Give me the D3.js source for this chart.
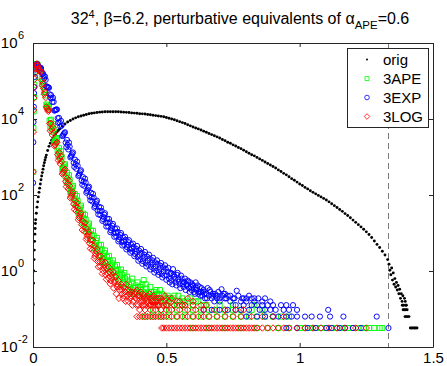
<!DOCTYPE html>
<html>
<head>
<meta charset="utf-8">
<title>perturbative equivalents</title>
<script src="https://d3js.org/d3.v7.min.js"></script>
<style>
  body { margin:0; background:#fff; }
  svg text { font-family: "Liberation Sans", Arial, Helvetica, sans-serif; fill:#000; }
</style>
</head>
<body>
<div id="chart"></div>
<script>
// bin centres: two interleaved grids for the dense part of the smeared histograms, one for the original
var binX = d3.range(98).map(function(i){ return +(0.015 + i * 0.005).toFixed(4); });
var binX2 = d3.range(97).map(function(i){ return +(0.0175 + i * 0.005).toFixed(4); });
var origX = d3.range(1, 134).map(function(i){ return i / 100; });

// log10 of the heights
var origHead = [[0.001,-0.89],[0.002,-0.32],[0.003,0.0],[0.004,0.30],[0.005,0.55],[0.006,0.78],[0.007,0.97],
  [0.008,1.12],[0.009,1.25],[0.0125,1.52],[0.015,1.68],[0.0175,1.82],[0.0225,2.07],[0.025,2.18],[0.0275,2.29],
  [0.0325,2.50],[0.035,2.59],[0.0375,2.68],[0.0425,2.85],[0.045,2.92],[0.0475,2.99],[0.055,3.17],[0.065,3.36],
  [0.075,3.50],[0.085,3.61],[0.095,3.70]];
var origLog = [
  1.35,1.95,2.40,2.77,3.05,3.28,3.44,3.56,3.66,3.74,
  3.81,3.87,3.92,3.96,4.00,4.03,4.06,4.08,4.10,4.12,
  4.14,4.15,4.16,4.17,4.18,4.185,4.19,4.19,4.19,4.19,
  4.19,4.19,4.185,4.18,4.175,4.17,4.16,4.155,4.15,4.14,
  4.135,4.13,4.12,4.11,4.10,4.09,4.08,4.07,4.06,4.04,
  4.02,4.00,3.98,3.955,3.93,3.905,3.88,3.85,3.82,3.79,
  3.765,3.74,3.71,3.68,3.65,3.62,3.59,3.56,3.53,3.50,
  3.46,3.43,3.39,3.36,3.32,3.29,3.25,3.22,3.18,3.14,
  3.10,3.06,3.03,2.99,2.95,2.91,2.87,2.83,2.79,2.75,
  2.71,2.66,2.62,2.57,2.53,2.48,2.43,2.39,2.34,2.29,
  2.25,2.20,2.16,2.11,2.07,2.03,1.99,1.95,1.91,1.87,
  1.82,1.77,1.72,1.67,1.62,1.57,1.51,1.46,1.40,1.34,
  1.28,1.22,1.16,1.10,1.03,0.96,0.88,0.79,0.70,0.62,
  0.52,0.42,0.30];
var origTail = [[1.335,0.18],[1.338,0.02],[1.342,-0.10],[1.345,0.08],[1.348,-0.24],[1.351,-0.05],[1.354,-0.35],
  [1.357,-0.20],[1.36,-0.42],[1.363,-0.30],[1.366,-0.50],[1.369,-0.38],[1.372,-0.60],[1.375,-0.48],[1.378,-0.72],
  [1.381,-0.60],[1.384,-0.80],[1.387,-0.65],[1.39,-0.90],[1.393,-0.72],[1.396,-0.80],[1.385,-0.90],[1.398,-0.90],
  [1.40,-0.90],[1.388,-1.02],[1.393,-1.02],[1.398,-1.02],[1.403,-1.02],[1.395,-1.2],[1.40,-1.2],[1.405,-1.2],
  [1.41,-1.2],[1.415,-1.5],[1.42,-1.5],[1.425,-1.5],[1.43,-1.5],[1.435,-1.5],[1.44,-1.5]];

var apeHead = [[0.0008,2.61],[0.0015,3.76],[0.0025,4.20],[0.0035,4.58],[0.005,4.90],[0.0065,5.10],[0.008,5.25],
  [0.0095,5.35],[0.011,5.41],[0.0125,5.44]];
var apeLog = [
  5.45,5.35,5.30,5.28,4.92,4.85,4.76,4.38,4.31,4.32,
  3.78,3.82,3.87,3.39,3.44,3.50,3.02,3.08,3.15,2.67,
  2.74,2.81,2.35,2.44,2.52,2.07,2.15,2.24,1.79,1.88,
  1.97,1.53,1.62,1.72,1.28,1.38,1.48,1.04,1.15,1.25,
  0.82,0.93,1.06,0.60,0.73,0.87,0.41,0.55,0.69,0.24,
  0.39,0.54,0.09,0.25,0.40,-0.04,0.12,0.28,-0.16,0.00,
  0.16,-0.28,-0.12,0.04];
var apeLog2 = [
  5.42,5.33,5.26,5.05,4.99,4.71,4.62,4.35,4.28,3.96,
  3.98,3.67,3.72,3.42,3.47,3.17,3.23,2.94,3.00,2.71,
  2.78,2.49,2.58,2.30,2.39,2.11,2.20,1.93,2.02,1.75,
  1.84,1.58,1.67,1.41,1.51,1.25,1.35,1.10,1.20,0.95,
  1.06,0.81,0.93,0.67,0.80,0.54,0.68,0.42,0.57,0.32,
  0.47,0.22,0.37,0.13,0.28,0.04,0.20,-0.04,0.12,-0.12,
  0.04,-0.20,-0.04];
var apeScatter = [[0.335,-0.10],[0.34,-0.30],[0.345,-0.20],[0.35,-0.42],[0.355,-0.25],[0.36,-0.35],[0.365,-0.50],
  [0.37,-0.30],[0.375,-0.45],[0.38,-0.60],[0.385,-0.38],[0.39,-0.55],[0.395,-0.42],[0.40,-0.65],[0.405,-0.50],
  [0.41,-0.35],[0.415,-0.24],[0.42,-0.60],[0.425,-0.46],[0.43,-0.72],[0.435,-0.55],[0.44,-0.42],[0.445,-0.65],
  [0.45,-0.80],[0.455,-0.55],[0.46,-0.72],[0.465,-0.60],[0.47,-0.80],[0.476,-0.50],[0.48,-0.72],[0.49,-0.65],
  [0.50,-0.90],[0.51,-0.72],[0.514,-0.72],[0.52,-0.80],[0.53,-0.65],[0.54,-0.90],[0.55,-0.80],[0.56,-0.72],
  [0.57,-0.90],[0.58,-0.80],[0.60,-0.90],[0.62,-0.80],
  [0.3375,-0.35],[0.3425,-0.05],[0.3525,-0.15],[0.3625,-0.55],[0.3725,-0.20],[0.3825,-0.45],[0.3925,-0.30],
  [0.4025,-0.42],[0.4125,-0.55],[0.4225,-0.35],[0.4325,-0.60],[0.4425,-0.55],[0.4525,-0.65],[0.4625,-0.50],
  [0.4725,-0.65],[0.4825,-0.60],[0.495,-0.80],[0.505,-0.65],[0.525,-0.72],[0.545,-0.65],[0.565,-0.80],
  [0.59,-0.72],[0.61,-0.80],[0.64,-0.90]];
var apeRows = [
  {y: 0.0316, x: [0.60,0.66,0.72,0.78,0.84,0.88,0.92,0.96,1.00,1.02,1.04,1.06,1.08,1.10,1.12,1.14,1.16,1.18,1.20,1.22,1.24,1.26,1.28,1.30,1.31]},
  {y: 0.0632, x: [0.42,0.45,0.48,0.51,0.54,0.57,0.60,0.63,0.66,0.69,0.72,0.75,0.78,0.81,0.84,0.87,0.90,0.93,0.96]},
  {y: 0.0949, x: [0.45,0.48,0.51,0.54,0.57,0.60,0.63,0.66,0.69,0.72,0.75,0.78,0.82,0.86]},
  {y: 0.1265, x: [0.50,0.55,0.60,0.65,0.70,0.75,0.83]}];

var expHead = [[0.0005,2.32],[0.0012,3.39],[0.002,3.92],[0.003,4.32],[0.004,4.68],[0.005,4.84],[0.0065,5.11],
  [0.008,5.30],[0.0095,5.37],[0.011,5.42],[0.0125,5.44]];
var expLog = [
  5.45,5.37,5.36,5.34,5.18,5.13,5.12,4.86,4.84,4.82,
  4.56,4.54,4.56,4.22,4.24,4.25,3.90,3.91,3.95,3.55,
  3.60,3.65,3.26,3.32,3.38,2.99,3.05,3.12,2.74,2.81,
  2.88,2.50,2.57,2.65,2.27,2.35,2.43,2.06,2.14,2.22,
  1.86,1.94,2.03,1.67,1.76,1.85,1.49,1.58,1.67,1.32,
  1.42,1.52,1.17,1.27,1.37,1.02,1.13,1.24,0.90,1.01,
  1.12,0.78,0.89,1.00,0.67,0.78,0.90,0.57,0.69,0.81,
  0.48,0.60,0.72,0.39,0.51,0.66,0.27,0.42,0.58,0.19,
  0.35,0.50,0.12,0.27,0.43,0.04,0.20,0.35,-0.04,0.12,
  0.28,-0.10,0.06,0.21,-0.17,-0.01,0.15,-0.23];
var expLog2 = [
  5.43,5.37,5.35,5.24,5.20,5.07,5.03,4.85,4.83,4.65,
  4.63,4.45,4.45,4.23,4.25,4.02,4.03,3.80,3.83,3.57,
  3.63,3.38,3.45,3.20,3.27,3.02,3.09,2.85,2.93,2.69,
  2.77,2.53,2.62,2.38,2.47,2.24,2.33,2.10,2.19,1.96,
  2.06,1.83,1.93,1.71,1.81,1.59,1.69,1.47,1.58,1.37,
  1.48,1.27,1.38,1.17,1.28,1.07,1.19,0.99,1.11,0.91,
  1.03,0.83,0.95,0.76,0.88,0.69,0.82,0.63,0.76,0.57,
  0.70,0.51,0.64,0.45,0.58,0.37,0.54,0.31,0.48,0.26,
  0.43,0.21,0.38,0.16,0.33,0.11,0.28,0.06,0.23,0.01,
  0.19,-0.03,0.14,-0.08,0.10,-0.12,0.06];
var expScatter = [[0.505,-0.02],[0.51,-0.20],[0.515,-0.08],[0.52,-0.25],[0.525,0.05],[0.53,-0.15],[0.535,-0.30],
  [0.54,-0.10],[0.545,-0.22],[0.55,-0.35],[0.555,-0.12],[0.56,-0.28],[0.565,-0.42],[0.57,-0.20],[0.575,-0.35],
  [0.58,-0.25],[0.585,-0.45],[0.59,-0.30],[0.595,-0.50],[0.60,-0.38],[0.605,-0.55],[0.61,-0.30],[0.615,-0.45],
  [0.62,-0.60],[0.625,-0.42],[0.63,-0.55],[0.635,-0.65],[0.64,-0.50],[0.645,-0.72],[0.65,-0.60],[0.655,-0.45],
  [0.66,-0.65],[0.665,-0.55],[0.67,-0.72],[0.675,-0.60],[0.68,-0.80],[0.685,-0.65],[0.69,-0.72],[0.695,-0.55],
  [0.707,-0.48],[0.71,-0.65],[0.72,-0.60],[0.73,-0.65],[0.764,-0.52],[0.80,-0.72],[0.83,-0.72],
  [0.5025,-0.12],[0.5075,0.08],[0.5125,-0.30],[0.5175,-0.05],[0.5225,-0.35],[0.5275,-0.10],[0.5325,-0.20],
  [0.5375,-0.38],[0.5425,-0.05],[0.5475,-0.28],[0.5525,-0.45],[0.5575,-0.20],[0.5625,-0.35],[0.5675,-0.30],
  [0.5725,-0.50],[0.5775,-0.38],[0.5825,-0.28],[0.5875,-0.55],[0.5925,-0.42],[0.5975,-0.35],[0.6025,-0.45],
  [0.6075,-0.60],[0.6125,-0.50],[0.6175,-0.38],[0.6225,-0.55],[0.6275,-0.65],[0.6325,-0.45],[0.6375,-0.55],
  [0.6425,-0.60],[0.6525,-0.72],[0.6625,-0.50],[0.6725,-0.65],[0.6825,-0.60],[0.6925,-0.65],[0.70,-0.72],
  [0.715,-0.60],[0.725,-0.72],[0.74,-0.65],[0.755,-0.72],[0.77,-0.65],[0.785,-0.72],[0.81,-0.65],[0.845,-0.72],
  [0.87,-0.72]];
var expRows = [
  {y: 0.0316, x: [0.95,0.99,1.03,1.06,1.10,1.12,1.15,1.17,1.20,1.23,1.333]},
  {y: 0.0632, x: [0.80,0.84,0.87,0.90,0.92,0.95,0.97,0.99,1.02,1.045,1.076,1.114,1.164,1.289]},
  {y: 0.0949, x: [0.64,0.67,0.70,0.73,0.76,0.78,0.81,0.85,0.87,0.89,0.91,0.94,0.96,0.99,1.107]},
  {y: 0.1265, x: [0.76,0.79,0.82,0.84,0.86,0.88,0.90,0.93,0.95,0.975]},
  {y: 0.158, x: [0.70,0.74,0.78,0.80,0.83,0.86,0.89]},
  {y: 0.19, x: [0.72,0.75,0.79,0.82]}];

var logHead = [[0.0008,2.61],[0.0015,3.66],[0.0025,4.24],[0.0035,4.55],[0.0045,4.84],[0.006,5.05],[0.0075,5.21],
  [0.009,5.32],[0.0105,5.40],[0.012,5.44]];
var logLog = [
  5.45,5.34,5.28,5.25,4.88,4.80,4.70,4.32,4.24,4.24,
  3.69,3.73,3.78,3.29,3.34,3.39,2.91,2.97,3.03,2.55,
  2.61,2.68,2.22,2.30,2.38,1.92,2.00,2.08,1.62,1.71,
  1.80,1.35,1.44,1.53,1.08,1.17,1.27,0.83,0.93,1.03,
  0.59,0.69,0.81,0.33,0.45,0.58,0.11,0.25,0.39,-0.07,
  0.08,0.23,-0.22,-0.06,0.10,-0.34,-0.18,-0.02];
var logLog2 = [
  5.41,5.31,5.23,5.02,4.94,4.65,4.56,4.28,4.20,3.88,
  3.89,3.58,3.63,3.32,3.37,3.06,3.12,2.82,2.88,2.58,
  2.65,2.36,2.44,2.16,2.24,1.96,2.04,1.76,1.85,1.58,
  1.67,1.40,1.49,1.22,1.31,1.04,1.14,0.88,0.98,0.72,
  0.82,0.56,0.67,0.39,0.52,0.25,0.38,0.12,0.26,0.01,
  0.16,-0.10,0.06,-0.18,-0.02,-0.26,-0.10];
var logScatter = [[0.305,-0.30],[0.31,-0.15],[0.315,-0.42],[0.32,-0.25],[0.325,-0.50],[0.33,-0.35],[0.335,-0.60],
  [0.34,-0.42],[0.345,-0.55],[0.35,-0.35],[0.355,-0.65],[0.36,-0.50],[0.365,-0.72],[0.37,-0.55],[0.375,-0.80],
  [0.38,-0.60],[0.385,-0.72],[0.39,-0.50],[0.395,-0.90],[0.40,-0.65],[0.405,-0.80],[0.41,-0.60],[0.415,-0.90],
  [0.42,-0.72],[0.425,-0.80],[0.43,-0.65],[0.435,-0.90],[0.44,-0.72],[0.445,-0.80],[0.45,-0.90],[0.455,-0.72],
  [0.46,-0.80],[0.465,-0.90],[0.47,-0.72],[0.48,-0.80],[0.49,-0.90],[0.50,-0.72],[0.51,-0.80],[0.53,-0.90],
  [0.55,-0.80],[0.57,-0.90],[0.60,-0.80],[0.63,-0.90],
  [0.3025,-0.45],[0.3075,-0.25],[0.3125,-0.60],[0.3175,-0.35],[0.3225,-0.72],[0.3275,-0.42],[0.3325,-0.50],
  [0.3375,-0.72],[0.3425,-0.65],[0.3475,-0.80],[0.3525,-0.50],[0.3575,-0.80],[0.3625,-0.60],[0.3675,-0.65],
  [0.3725,-0.90],[0.3775,-0.65],[0.3825,-0.55],[0.3875,-0.90],[0.3925,-0.65],[0.3975,-0.72],[0.4025,-0.55],
  [0.4075,-0.72],[0.4125,-0.80],[0.4175,-0.65],[0.4225,-0.90],[0.4275,-0.72],[0.4325,-0.80],[0.4375,-0.60],
  [0.4425,-0.90],[0.4475,-0.72],[0.4525,-0.65],[0.4575,-0.90],[0.4625,-0.72],[0.4725,-0.90],[0.4775,-0.72],
  [0.4875,-0.80],[0.495,-0.65],[0.505,-0.90],[0.52,-0.72],[0.54,-0.80],[0.56,-0.90],[0.58,-0.72]];
var logRows = [
  {y: 0.0316, x: [0.483,0.49,0.50,0.51,0.52,0.53,0.54,0.55,0.56,0.57,0.58,0.59,0.60,0.61,0.62,0.63,0.64,0.65,0.66,
    0.67,0.68,0.69,0.70,0.71,0.72,0.73,0.74,0.75,0.76,0.77,0.78,0.79,0.80,0.81,0.82,0.83,0.84,0.86,0.88,0.90,0.92,
    0.94,0.96,0.99,1.02,1.05,1.08,1.11,1.14,1.17,1.21,1.25]},
  {y: 0.0632, x: [0.39,0.40,0.41,0.42,0.43,0.44,0.45,0.46,0.47,0.48,0.49,0.50,0.52,0.54,0.56,0.58,0.60,0.62,0.64,
    0.66,0.69,0.72,0.75,0.78,0.82,0.86,0.90,0.94]},
  {y: 0.0949, x: [0.40,0.42,0.44,0.46,0.48,0.50,0.52,0.55,0.58,0.61,0.64,0.68,0.72,0.76,0.79]},
  {y: 0.1265, x: [0.41,0.44,0.47,0.50,0.53,0.56,0.60,0.65]}];

var cutoff = [1.333];
var xTicks = [0, 0.5, 1, 1.5];
var yTicks = [1e-2, 1, 1e2, 1e4, 1e6];
var yTickExp = ["-2", "0", "2", "4", "6"];
var legendNames = ["orig", "3APE", "3EXP", "3LOG"];
var colors = ["#000000", "#00ff00", "#0000ff", "#ff0000"];

var W = 447, H = 366;
var x = d3.scaleLinear().domain([0, 1.5]).range([33, 433]);
var y = d3.scaleLog().domain([1e-2, 1e6]).range([347, 43]);

function pairs(list) { return list.map(function(d){ return [d[0], Math.pow(10, d[1])]; }); }
function onGrid(xs, logs) { return logs.map(function(v, i){ return [xs[i], Math.pow(10, v)]; }); }
function rows(list) {
  var out = [];
  list.forEach(function(r){ r.x.forEach(function(v){ out.push([v, r.y]); }); });
  return out;
}

var origPts = pairs(origHead).concat(onGrid(origX, origLog), pairs(origTail));
var apePts = pairs(apeHead).concat(onGrid(binX, apeLog), onGrid(binX2, apeLog2), pairs(apeScatter), rows(apeRows));
var expPts = pairs(expHead).concat(onGrid(binX, expLog), onGrid(binX2, expLog2), pairs(expScatter), rows(expRows));
var logPts = pairs(logHead).concat(onGrid(binX, logLog), onGrid(binX2, logLog2), pairs(logScatter), rows(logRows));

var square = function(s){ return "M" + (-s) + "," + (-s) + "H" + s + "V" + s + "H" + (-s) + "Z"; };
var diamond = function(s){ return "M0," + (-s) + "L" + s + ",0L0," + s + "L" + (-s) + ",0Z"; };
var circle = function(r){ return d3.symbol().type(d3.symbolCircle).size(Math.PI * r * r)(); };

var svg = d3.select("#chart").append("svg").attr("width", W).attr("height", H);
svg.append("rect").attr("width", W).attr("height", H).attr("fill", "#fff");

svg.append("defs").append("clipPath").attr("id", "clip").append("rect")
  .attr("x", x(0)).attr("y", y(1e6)).attr("width", x(1.5) - x(0)).attr("height", y(1e-2) - y(1e6));
var plot = svg.append("g").attr("clip-path", "url(#clip)");

plot.selectAll("line.cut").data(cutoff).enter().append("line")
  .attr("x1", function(d){ return Math.round(x(d)) + 0.5; })
  .attr("x2", function(d){ return Math.round(x(d)) + 0.5; })
  .attr("y1", y(1e6)).attr("y2", y(1e-2))
  .attr("stroke", "#7a7a7a").attr("stroke-width", 1).attr("stroke-dasharray", "6,4");

plot.append("g").selectAll("circle").data(origPts).enter().append("circle")
  .attr("cx", function(d){ return x(d[0]); })
  .attr("cy", function(d){ return y(d[1]); })
  .attr("r", 1.45).attr("fill", "#000");

function markers(pts, shape, color) {
  plot.append("g").attr("fill", "none").attr("stroke", color).attr("stroke-width", 0.95)
    .selectAll("path").data(pts).enter().append("path")
    .attr("transform", function(d){ return "translate(" + x(d[0]) + "," + y(d[1]) + ")"; })
    .attr("d", shape);
}
markers(apePts, square(2.5), colors[1]);
markers(expPts, circle(2.6), colors[2]);
markers(logPts, diamond(3.2), colors[3]);

// axes, box with inward ticks
function styleAxis(g) {
  g.attr("color", "#262626").attr("font-family", null).attr("font-size", null);
  g.selectAll("text").style("font-size", "15px");
}
svg.append("g").attr("transform", "translate(0," + y(1e-2) + ")")
  .call(d3.axisBottom(x).tickValues(xTicks).tickSizeInner(-4).tickSizeOuter(0).tickPadding(5).tickFormat(d3.format("")))
  .call(styleAxis);
svg.append("g").attr("transform", "translate(0," + y(1e6) + ")")
  .call(d3.axisTop(x).tickValues(xTicks).tickSizeInner(-4).tickSizeOuter(0).tickFormat(""))
  .call(styleAxis);
svg.append("g").attr("transform", "translate(" + x(0) + ",0)")
  .call(d3.axisLeft(y).tickValues(yTicks).tickSizeInner(-4).tickSizeOuter(0).tickFormat(""))
  .call(styleAxis);
svg.append("g").attr("transform", "translate(" + x(1.5) + ",0)")
  .call(d3.axisRight(y).tickValues(yTicks).tickSizeInner(-4).tickSizeOuter(0).tickFormat(""))
  .call(styleAxis);

var yl = svg.append("g");
yTicks.forEach(function(v, i){
  yl.append("text").attr("x", 17.5).attr("y", y(v) + 4.5).attr("text-anchor", "end")
    .style("font-size", "15px").text("10");
  yl.append("text").attr("x", 18).attr("y", y(v) - 4).style("font-size", "11px").text(yTickExp[i]);
});

// title
var title = svg.append("text").attr("x", 240).attr("y", 23.5).attr("text-anchor", "middle").style("font-size", "16px");
title.append("tspan").text("32");
title.append("tspan").attr("dy", -6).style("font-size", "11px").text("4");
title.append("tspan").attr("dy", 6).text(", \u03b2=6.2, perturbative equivalents of \u03b1");
title.append("tspan").attr("dy", 5).style("font-size", "11.5px").text("APE");
title.append("tspan").attr("dy", -5).text("=0.6");

// legend
var leg = svg.append("g");
leg.append("rect").attr("x", 347.5).attr("y", 48.5).attr("width", 81).attr("height", 79)
  .attr("fill", "#fff").attr("stroke", "#262626").attr("stroke-width", 1);
legendNames.forEach(function(name, i){
  var cy = 59.5 + i * 19, mx = 367;
  if (i === 0) {
    leg.append("circle").attr("cx", mx).attr("cy", cy).attr("r", 1).attr("fill", colors[0]);
  } else {
    var shape = i === 1 ? square(2) : (i === 2 ? circle(2.3) : diamond(2.8));
    leg.append("path").attr("transform", "translate(" + mx + "," + cy + ")").attr("d", shape)
      .attr("fill", "none").attr("stroke", colors[i]).attr("stroke-width", 0.8);
  }
  leg.append("text").attr("x", 383).attr("y", cy + 5.5).style("font-size", "15px").text(name);
});
</script>
</body>
</html>
